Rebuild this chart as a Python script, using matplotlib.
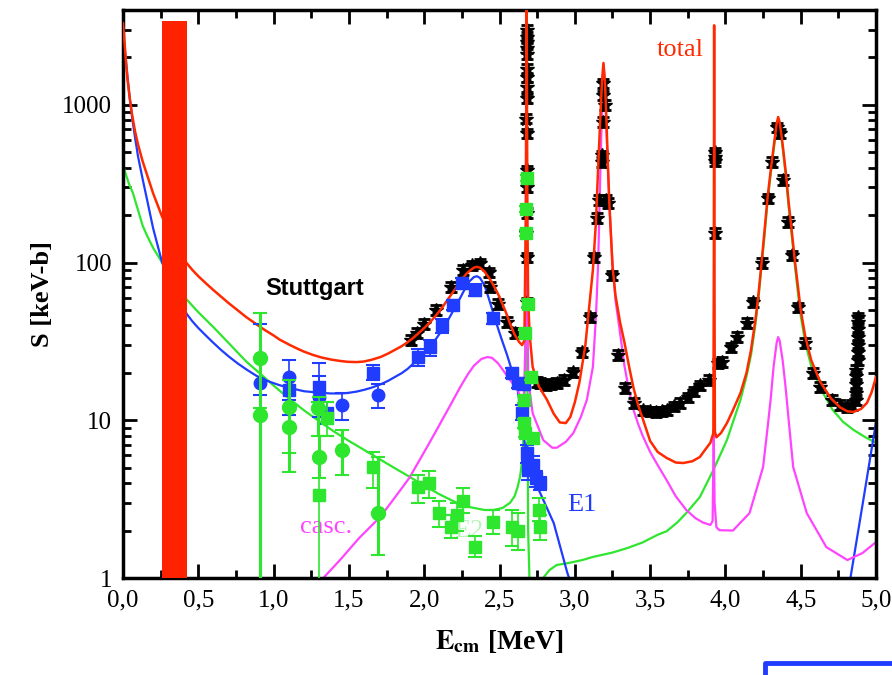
import numpy as np
import matplotlib
matplotlib.use("Agg")
import matplotlib.pyplot as plt
from matplotlib.lines import Line2D

plt.rcParams['font.family'] = ['Liberation Serif', 'DejaVu Serif']
plt.rcParams['mathtext.fontset'] = 'stix'

c_red = '#ff2a00'
c_blue = '#1f3cff'
c_green = '#2ee62e'
c_mag = '#ff44ff'

# ---- model curves ----
total_x = [0.0, 0.01, 0.02, 0.03, 0.045, 0.06, 0.08, 0.10, 0.13, 0.16, 0.20, 0.26, 0.34,
           0.42, 0.46, 0.5, 0.55, 0.6, 0.65, 0.7, 0.76, 0.82, 0.88, 0.93, 1.0, 1.04, 1.1,
           1.15, 1.2, 1.26, 1.32, 1.38, 1.44, 1.49, 1.55, 1.6, 1.65, 1.71, 1.76, 1.8, 1.85,
           1.89, 1.93, 1.96, 2.0, 2.04, 2.08, 2.12, 2.16, 2.20, 2.24, 2.28, 2.31, 2.33, 2.35,
           2.37, 2.40, 2.44, 2.47, 2.50, 2.54, 2.57, 2.60, 2.63, 2.65,
           2.665, 2.675, 2.68, 2.685, 2.69, 2.70, 2.72, 2.76, 2.815, 2.86, 2.90, 2.94, 2.97,
           3.00, 3.03, 3.07, 3.10, 3.12, 3.14, 3.155, 3.17, 3.18, 3.19, 3.20, 3.21, 3.22,
           3.23, 3.24, 3.25, 3.27, 3.30, 3.33, 3.36, 3.39, 3.42, 3.45, 3.50, 3.55, 3.61, 3.67,
           3.72, 3.78, 3.83, 3.87, 3.90, 3.92, 3.923, 3.925, 3.927, 3.93, 3.94, 3.97, 4.01,
           4.05, 4.10, 4.14, 4.17, 4.20, 4.22, 4.24, 4.26, 4.28, 4.30, 4.32, 4.34, 4.35, 4.36,
           4.38, 4.40, 4.42, 4.44, 4.46, 4.48, 4.50, 4.53, 4.57, 4.63, 4.70, 4.76, 4.81, 4.85,
           4.90, 4.94, 4.97, 5.0]
total_y = [3300, 2500, 1850, 1450, 1100, 870, 680, 560, 440, 360, 275, 195, 135,
           100, 90, 82, 74, 67, 61, 55.5, 50, 45, 41, 38, 34.5, 32.5, 30.3,
           28.7, 27.3, 26, 25, 24.3, 23.8, 23.5, 23.4, 23.6, 24.2, 25.2, 26.5, 27.8, 29.5,
           31.3, 33.5, 35.5, 38.5, 42, 46.5, 52, 59, 67, 76, 85, 90, 93, 94,
           93, 88, 77.6, 69, 60.5, 49, 41, 35, 31.4, 30,
           32, 200, 6000, 200, 58, 35, 21.8, 16.5, 13.5, 11, 9.7, 9.6, 10.5,
           13, 17.3, 30, 58, 90, 180, 404, 850, 1400, 1845, 1400, 800, 404,
           230, 150, 95, 62, 42, 31, 22, 16, 12.5, 10.3, 7.4, 6.3, 5.77, 5.4,
           5.36, 5.5, 5.85, 6.6, 7.2, 8.3, 100, 3200, 100, 8.5, 7.8, 8.3, 9.6,
           11.6, 14.9, 20, 28, 44, 64, 100, 160, 260, 380, 541, 760, 838, 780,
           560, 380, 240, 160, 105, 72, 50, 34, 24, 17.5, 13.8, 12.1, 11.4, 11.3,
           11.8, 12.9, 15, 18.8]

e1_x = [0.0, 0.01, 0.02, 0.03, 0.045, 0.06, 0.08, 0.10, 0.13, 0.16, 0.20, 0.26, 0.34, 0.425,
        0.46, 0.5, 0.55, 0.6, 0.65, 0.7, 0.76, 0.82, 0.88, 0.93, 1.0, 1.04, 1.1, 1.15, 1.2,
        1.26, 1.32, 1.38, 1.44, 1.49, 1.55, 1.6, 1.65, 1.71, 1.76, 1.80, 1.85, 1.89, 1.93,
        1.96, 2.0, 2.04, 2.08, 2.12, 2.16, 2.20, 2.24, 2.27, 2.30, 2.33, 2.35, 2.37, 2.40,
        2.42, 2.45, 2.48, 2.51, 2.55, 2.58, 2.62, 2.65, 2.67, 2.69, 2.77, 2.86, 2.95, 2.97]
e1_y = [3000, 2350, 1900, 1500, 1100, 840, 620, 470, 340, 250, 165, 100, 66, 47,
        42.5, 38.5, 34.5, 31, 28, 25.5, 23, 21, 19.3, 18.2, 17.2, 16.7, 16.1, 15.7, 15.3,
        15.1, 14.9, 14.8, 14.8, 14.9, 15.2, 15.6, 16.1, 16.9, 17.8, 18.7, 19.9, 21.2, 23,
        24.6, 26.8, 29.5, 33, 37.5, 43.5, 51, 60, 68, 76, 81, 82, 80, 72,
        63, 51, 41, 33.5, 26, 21, 15.6, 10, 6.8, 5.06, 3.46, 2.23, 1.08, 0.95]
e1b_x = [4.83, 4.915, 5.0]
e1b_y = [1.0, 3.1, 9.75]

e2_x = [0.0, 0.02, 0.04, 0.066, 0.10, 0.13, 0.16, 0.20, 0.26, 0.34, 0.425, 0.5, 0.6, 0.7,
        0.82, 0.91, 1.0, 1.1, 1.2, 1.3, 1.4, 1.5, 1.6, 1.7, 1.8, 1.9, 2.0, 2.1, 2.2, 2.3,
        2.4, 2.46, 2.52, 2.57, 2.60, 2.62, 2.636, 2.655, 2.67, 2.678, 2.685, 2.69, 2.70]
e2_y = [415, 360, 315, 276, 215, 172, 148, 124, 100, 76, 58, 48.5, 39, 31,
        23.5, 19.8, 16.6, 13.8, 11.6, 9.9, 8.5, 7.4, 6.5, 5.7, 5.0, 4.4, 3.85, 3.4, 3.05, 2.82,
        2.7, 2.7, 2.78, 3.0, 3.3, 3.77, 4.37, 6, 20, 300, 20, 2, 0.9]
e2b_x = [2.78, 2.79, 2.83, 2.88, 2.95, 3.05, 3.12, 3.25, 3.35, 3.45, 3.55, 3.61, 3.68,
         3.74, 3.83, 3.92, 4.01, 4.10, 4.14, 4.17, 4.20, 4.22, 4.24, 4.26, 4.28, 4.30, 4.32,
         4.34, 4.35, 4.36, 4.38, 4.40, 4.42, 4.44, 4.46, 4.48, 4.50, 4.53, 4.57, 4.63, 4.71,
         4.78, 4.85, 4.93, 5.0]
e2b_y = [0.95, 1.0, 1.12, 1.21, 1.24, 1.3, 1.36, 1.45, 1.55, 1.68, 1.88, 1.98, 2.25,
         2.58, 3.26, 4.84, 7.5, 13.5, 19, 26, 41, 60, 95, 150, 245, 360, 515,
         730, 800, 750, 535, 360, 225, 150, 98, 66, 46, 31, 22, 16, 11.7,
         9.8, 8.7, 7.8, 7.2]

casc_x = [1.33, 1.40, 1.45, 1.51, 1.57, 1.64, 1.71, 1.79, 1.85, 1.9, 1.96, 2.02, 2.08, 2.13,
          2.18, 2.24, 2.29, 2.33, 2.38, 2.42, 2.45, 2.49, 2.52, 2.57, 2.62, 2.66,
          2.672, 2.678, 2.685, 2.69, 2.72, 2.79, 2.85, 2.88, 2.94, 2.99, 3.04,
          3.08, 3.12, 3.14, 3.155, 3.165, 3.175, 3.185, 3.19, 3.20, 3.21, 3.22, 3.23, 3.24,
          3.25, 3.27, 3.30, 3.33, 3.36, 3.39, 3.42, 3.45, 3.50, 3.55, 3.61, 3.67, 3.74, 3.80,
          3.85, 3.90, 3.915, 3.922, 3.928, 3.94, 3.96, 4.05, 4.16, 4.25, 4.28, 4.30, 4.32,
          4.34, 4.35, 4.36, 4.38, 4.40, 4.42, 4.45, 4.54, 4.67, 4.81, 4.91, 5.0]
casc_y = [1.0, 1.18, 1.33, 1.55, 1.8, 2.1, 2.45, 3.1, 3.7, 4.3, 5.4, 6.8, 8.6, 10.5,
          12.8, 16.3, 19.6, 22.2, 24.5, 25.2, 24.9, 23, 21, 18, 15.6, 12.5,
          30, 2500, 60, 18, 11.1, 7.5, 6.7, 6.7, 7.3, 8.3, 10.5,
          13.5, 21.8, 45, 100, 250, 600, 1400, 1800, 1400, 700, 400, 230, 150,
          100, 58, 36, 22, 15.5, 11.6, 9.5, 8.0, 6.3, 5.2, 4.17, 3.3, 2.7, 2.4,
          2.25, 2.17, 2.3, 8.7, 3.0, 2.1, 2.01, 2.0, 2.58, 5.05, 9, 13.5, 22,
          31, 33.7, 32, 24, 16, 10, 5.05, 2.58, 1.57, 1.30, 1.44, 1.69]

# ---- data points ----
star_x = [1.91, 1.95, 2.00, 2.08, 2.18, 2.26, 2.32, 2.37, 2.43, 2.44, 2.49, 2.55, 2.60,
          2.68, 2.68, 2.675, 2.68, 2.68, 2.685, 2.68, 2.675, 2.68, 2.68, 2.68, 2.68, 2.685,
          2.68, 2.68, 2.68, 2.68,
          2.75, 2.77, 2.81, 2.84, 2.88, 2.93, 2.99, 3.05, 3.10, 3.13, 3.15, 3.16, 3.18,
          3.18, 3.19, 3.20, 3.19, 3.19, 3.21, 3.22, 3.25, 3.29, 3.33, 3.39, 3.45, 3.50,
          3.54, 3.58, 3.61, 3.66, 3.70, 3.75, 3.79, 3.83, 3.89, 3.95, 3.93, 3.93, 3.93,
          3.93, 3.98, 4.04, 4.08, 4.14, 4.18, 4.24, 4.28, 4.31, 4.34, 4.36, 4.38, 4.415,
          4.44, 4.48, 4.53, 4.58, 4.63, 4.71, 4.76, 4.81, 4.84,
          4.87, 4.87, 4.87, 4.87, 4.87, 4.88, 4.88, 4.88, 4.88, 4.88, 4.88, 4.88]
star_y = [32.3, 36, 41, 50, 70, 90, 96, 99, 87, 70, 55, 42, 36,
          56, 108, 154, 207, 300, 385, 660, 820, 1100, 1300, 1500, 1700, 2100,
          2300, 2500, 2700, 3000,
          17.5, 17.3, 16.8, 17, 17.3, 18, 20.2, 27, 45, 108, 192, 250, 435,
          480, 780, 1000, 1150, 1370, 250, 240, 83, 26, 16, 12.9, 11.6, 11.4,
          11.3, 11.4, 11.6, 12.3, 12.9, 14, 15.3, 16.7, 18, 23, 154, 440, 470,
          500, 23.4, 29, 33.7, 41.5, 56, 100, 256, 435, 720, 660, 335, 181,
          111, 52, 31, 20, 16.3, 13.5, 12.5, 12.1, 12.5,
          13.5, 15, 17, 19, 21, 24, 27, 30, 34, 38, 42, 45]
star_rel_err = 0.07

blue_sq_x = [1.10, 1.30, 1.355, 1.66, 1.96, 2.04, 2.12, 2.19, 2.25, 2.34, 2.46, 2.58, 2.62,
             2.65, 2.66, 2.68, 2.69, 2.72, 2.74, 2.77]
blue_sq_y = [15.6, 16.3, 11.1, 20, 25.2, 29, 40, 54, 74, 67, 44.5, 20, 17.3,
             11.1, 17, 6.2, 4.84, 5.2, 4.3, 4.0]
blue_sq_lo = [13.5, 11.7, 9.5, 18, 22, 25.5, 36, 50, 68, 61, 41, 18.5, 16,
              10, 15.5, 5.4, 4.2, 4.5, 3.8, 3.6]
blue_sq_hi = [18, 23, 13, 22.5, 28.5, 32.5, 44, 58, 80, 73, 48, 21.5, 18.5,
              12.5, 18.5, 7.0, 5.5, 5.9, 4.8, 4.4]

blue_ci_x = [0.91, 1.10, 1.30, 1.455, 1.69]
blue_ci_y = [17.3, 18.8, 14, 12.5, 14.5]
blue_ci_lo = [14.5, 10.8, 10.5, 10, 12]
blue_ci_hi = [41, 24, 19, 15, 17]

green_sq_x = [1.30, 1.355, 1.66, 1.96, 2.03, 2.10, 2.18, 2.22, 2.26, 2.34, 2.46, 2.58, 2.62,
              2.76, 2.77, 2.68, 2.675, 2.673, 2.69, 2.67, 2.71, 2.66, 2.665, 2.67, 2.72]
green_sq_y = [3.36, 10.3, 5.05, 3.78, 4.0, 2.58, 2.1, 2.5, 3.1, 1.57, 2.27, 2.1, 2.0,
              2.7, 2.1, 345, 220, 154, 55, 36, 18.9, 13.5, 9.6, 8.3, 7.7]
green_sq_lo = [0.9, 8, 3.7, 3.0, 3.2, 2.1, 1.8, 2.0, 2.6, 1.35, 1.9, 1.6, 1.5,
               2.3, 1.75, 330, 210, 148, 52, 34, 18, 12.8, 9, 7.8, 7.2]
green_sq_hi = [14, 13, 6.3, 4.5, 4.8, 3.1, 2.5, 3.0, 3.7, 1.85, 2.7, 2.7, 2.6,
               3.2, 2.5, 360, 230, 160, 58, 38, 20, 14.2, 10.2, 8.8, 8.2]

green_ci_x = [0.91, 0.91, 1.10, 1.10, 1.295, 1.30, 1.455, 1.69]
green_ci_y = [25, 10.8, 12.1, 9.1, 12, 5.85, 6.5, 2.58]
green_ci_lo = [0.9, 0.9, 6.2, 4.7, 8, 4.3, 4.5, 1.4]
green_ci_hi = [47.7, 12, 18, 12, 13, 8, 8.7, 5.85]

bar_x0, bar_x1 = 0.26, 0.425
bar_top = 3400

xticks = [0.0, 0.5, 1.0, 1.5, 2.0, 2.5, 3.0, 3.5, 4.0, 4.5, 5.0]
xtick_labels = ['0,0', '0,5', '1,0', '1,5', '2,0', '2,5', '3,0', '3,5', '4,0', '4,5', '5,0']
yticks = [1, 10, 100, 1000]
ytick_labels = ['1', '10', '100', '1000']


def errs(y, lo, hi):
    y = np.array(y)
    return [y - np.array(lo), np.array(hi) - y]


fig = plt.figure(figsize=(8.92, 6.75), dpi=100)
ax = fig.add_axes([0.1379, 0.1437, 0.8442, 0.8415])

ax.plot(e2_x, e2_y, color=c_green, lw=1.6, zorder=2)
ax.plot(e2b_x, e2b_y, color=c_green, lw=1.6, zorder=2)
ax.plot(e1_x, e1_y, color=c_blue, lw=1.6, zorder=2)
ax.plot(e1b_x, e1b_y, color=c_blue, lw=1.6, zorder=2)
ax.plot(casc_x, casc_y, color=c_mag, lw=1.6, zorder=2)
ax.plot(total_x, total_y, color=c_red, lw=1.8, zorder=3.5)

sy = np.array(star_y)
ax.errorbar(star_x, star_y, yerr=sy * star_rel_err, fmt='*', color='black', ms=10,
            capsize=4, elinewidth=1.2, capthick=2, zorder=3)

ax.errorbar(blue_ci_x, blue_ci_y, yerr=errs(blue_ci_y, blue_ci_lo, blue_ci_hi), fmt='o',
            color=c_blue, ms=9, capsize=5, elinewidth=1.2, capthick=1.5, zorder=4)
ax.errorbar(blue_sq_x, blue_sq_y, yerr=errs(blue_sq_y, blue_sq_lo, blue_sq_hi), fmt='s',
            color=c_blue, ms=9, capsize=5, elinewidth=1.2, capthick=1.5, zorder=4)
ax.errorbar(green_ci_x, green_ci_y, yerr=errs(green_ci_y, green_ci_lo, green_ci_hi), fmt='o',
            color=c_green, ms=10, capsize=5, elinewidth=2.2, capthick=1.5, zorder=4.2)
ax.errorbar(green_sq_x, green_sq_y, yerr=errs(green_sq_y, green_sq_lo, green_sq_hi), fmt='s',
            color=c_green, ms=9, capsize=5, elinewidth=1.2, capthick=1.5, zorder=4.2)

ax.bar((bar_x0 + bar_x1) / 2, bar_top - 1, bottom=1, width=bar_x1 - bar_x0,
       color='#ff2200', zorder=6)

ax.set_yscale('log')
ax.set_xlim(0, 5)
ax.set_ylim(1, 4000)
ax.set_xticks(xticks)
ax.set_xticklabels(xtick_labels)
ax.set_xticks(np.arange(0.25, 5, 0.5), minor=True)
ax.set_yticks(yticks)
ax.set_yticklabels(ytick_labels)
ax.tick_params(which='both', direction='in', top=True, right=True, labelsize=18, width=2)
ax.tick_params(which='major', length=10, pad=8)
ax.tick_params(which='minor', length=6)
for s in ax.spines.values():
    s.set_linewidth(2.5)

ax.set_xlabel(r'$\mathbf{E_{cm}}$ [MeV]', fontsize=20, fontweight='bold', labelpad=12)
ax.set_ylabel('S [keV-b]', fontsize=19, fontweight='bold', labelpad=6)

ax.text(1.27, 69, 'Stuttgart', family='Liberation Sans', fontweight='bold', fontsize=17,
        ha='center', va='center', zorder=7)
ax.text(3.70, 2230, 'total', color=c_red, fontsize=19, ha='center', va='center')
ax.text(1.35, 2.1, 'casc.', color=c_mag, fontsize=19, ha='center', va='center')
ax.text(3.05, 2.9, 'E1', color=c_blue, fontsize=19, ha='center', va='center')
ax.text(2.30, 2.0, 'E2', color='#b8f5b8', fontsize=19, ha='center', va='center', zorder=3)

fig.add_artist(Line2D([765 / 892, 765 / 892, 1.0], [0, 12 / 675, 12 / 675],
                      transform=fig.transFigure, color=c_blue, lw=3.5))

fig.savefig('out.png', dpi=100)
